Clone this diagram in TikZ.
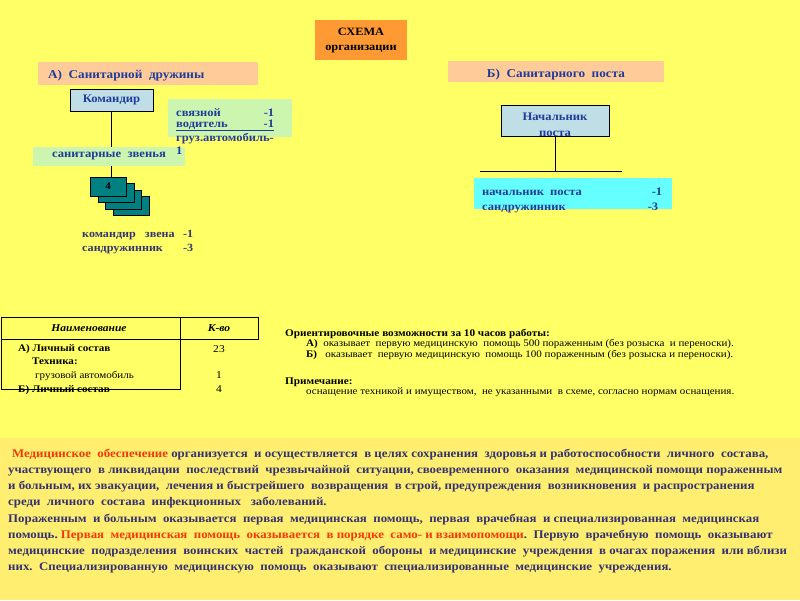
\documentclass[tikz,border=0pt]{standalone}
\usepackage{fontspec}
\setmainfont{Liberation Serif}[FakeStretch=1.1]
\usetikzlibrary{positioning}
\definecolor{bgYellow}{HTML}{FFFF66}
\definecolor{paleYellow}{HTML}{FFEE70}
\definecolor{schemeOrange}{HTML}{FF9933}
\definecolor{peach}{HTML}{FFCC99}
\definecolor{chiefBlue}{HTML}{C0DEE6}
\definecolor{mint}{HTML}{CCF5B0}
\definecolor{postCyan}{HTML}{66FFFF}
\definecolor{linkTeal}{HTML}{008080}
\definecolor{inkBlue}{HTML}{1F3C9C}
\definecolor{inkNavy}{HTML}{333370}
\definecolor{inkRed}{HTML}{F03A0A}

\begin{document}
\begin{tikzpicture}[x=1pt,y=-1pt,
  every node/.style={inner sep=0pt},
  lbl/.style={anchor=base west, text=inkBlue, font=\fontsize{11.4}{13}\selectfont\bfseries},
  small/.style={anchor=base west, font=\fontsize{10}{12}\selectfont},
  para/.style={anchor=base west, text=inkNavy, font=\fontsize{11.7}{14}\selectfont\bfseries}]
  \useasboundingbox (0,0) rectangle (800,600);
  \fill[bgYellow] (0,0) rectangle (800,600);
  \fill[paleYellow] (0,438) rectangle (800,600);

  % headings
  \node[fill=schemeOrange, minimum width=92, minimum height=40, align=center,
        font=\fontsize{11.2}{15}\selectfont\bfseries] (schema) at (361,40) {СХЕМА\\организации};
  \node[fill=peach, minimum width=220, minimum height=23] (druzh) at (148,73.5) {};
  \node[lbl, font=\fontsize{12}{14}\selectfont\bfseries] (druzhT) at (48,78) {А)\ \ Санитарной\ \ дружины};
  \node[fill=peach, minimum width=216, minimum height=21] (post) at (556,71.5) {};
  \node[lbl, anchor=base, font=\fontsize{12}{14}\selectfont\bfseries] (postT) at (556,77) {Б)\ \ Санитарного\ \ поста};

  % sanitary squad
  \node[draw, fill=chiefBlue, minimum width=83, minimum height=22, text=inkBlue,
        font=\fontsize{11.5}{13}\selectfont\bfseries] (komandir) at (111.5,100) {Командир};
  \node[fill=mint, minimum width=124, minimum height=38, anchor=north west] (svyaz) at (168,99) {};
  \node[fill=mint, minimum width=152, minimum height=19, text=inkBlue,
        font=\fontsize{11.5}{13}\selectfont\bfseries] (zvenya) at (109,156.5) {санитарные\ \ звенья};
  \node[lbl] (svyaz1) at (176,116) {\makebox[98pt][l]{связной\hfill-1}};
  \node[lbl] (svyaz2) at (176,127) {\underline{\makebox[98pt][l]{водитель\hfill-1}}};
  \node[lbl] (svyaz3) at (176,141) {груз.автомобиль-};
  \node[lbl] (svyaz4) at (176,154) {1};
  \foreach \k in {3,2,1,0}
    \node[draw, fill=linkTeal, minimum width=36, minimum height=19, anchor=north west,
          font=\fontsize{10}{12}\selectfont\bfseries] (zv\k) at ({90+7.5*\k},{177+6.3*\k}) {\ifnum\k=0 4\fi};
  \draw (komandir.south) -- (komandir.south |- zvenya.north);
  \draw (komandir.south |- zvenya.south) -- (komandir.south |- zv0.north);
  \node[lbl, text=inkNavy, font=\fontsize{11}{13}\selectfont\bfseries] (zvSostav1) at (82,237) {\makebox[111pt][l]{командир\ \ \ звена\hfill-1}};
  \node[lbl, text=inkNavy, font=\fontsize{11}{13}\selectfont\bfseries] (zvSostav2) at (82,251) {\makebox[111pt][l]{сандружинник\hfill-3}};

  % sanitary post
  \node[draw, fill=chiefBlue, minimum width=108, minimum height=31] (nach) at (555,120.5) {};
  \node[anchor=north, align=center, text=inkBlue, font=\fontsize{11.5}{16}\selectfont\bfseries]
        (nachT) at (555,113) {Начальник\\поста};
  \coordinate (barL) at (480,171);
  \coordinate (barR) at (622,171);
  \draw (nach.south) -- (nach.south |- barL);
  \draw (barL) -- (barR);
  \node[fill=postCyan, minimum width=198, minimum height=31, anchor=north west] (postSostav) at (474,178) {};
  \node[lbl] (postS1) at (482,195) {\makebox[180pt][l]{начальник\ \ поста\hfill-1}};
  \node[lbl] (postS2) at (482,210) {\makebox[176pt][l]{сандружинник\hfill-3}};

  % table
  \draw (1,317) rectangle (258,339);
  \draw (1,339) rectangle (180,389);
  \draw (180,317) -- (180,339);
  \node[anchor=base, font=\fontsize{10.5}{12}\selectfont\bfseries\itshape] (thName) at (89,331) {Наименование};
  \node[anchor=base, font=\fontsize{10.5}{12}\selectfont\bfseries\itshape] (thQty) at (219,331) {К-во};
  \node[small, font=\fontsize{10.1}{12}\selectfont\bfseries] (tr1) at (18,351) {А) Личный состав};
  \node[small, font=\fontsize{10.1}{12}\selectfont\bfseries] (tr2) at (32,364) {Техника:};
  \node[small] (tr3) at (35,378) {грузовой автомобиль};
  \node[small, font=\fontsize{10.1}{12}\selectfont\bfseries] (tr4) at (18,392) {Б) Личный состав};
  \node[anchor=base, font=\fontsize{10.5}{12}\selectfont] (q1) at (219,352) {23};
  \node[anchor=base, font=\fontsize{10.5}{12}\selectfont] (q2) at (219,378) {1};
  \node[anchor=base, font=\fontsize{10.5}{12}\selectfont] (q3) at (219,392) {4};

  % capacities
  \node[small, font=\fontsize{10.2}{12}\selectfont\bfseries] (capHead) at (285,336) {Ориентировочные возможности за 10 часов работы:};
  \node[small] (capA) at (306,346) {\textbf{А)}\ \ оказывает\ \ первую медицинскую\ \ помощь 500 пораженным (без розыска\ \ и переноски).};
  \node[small] (capB) at (306,357) {\textbf{Б)}\ \ \ оказывает\ \ первую медицинскую\ \ помощь 100 пораженным (без розыска и переноски).};
  \node[small, font=\fontsize{10.2}{12}\selectfont\bfseries] (noteHead) at (285,384) {Примечание:};
  \node[small] (noteBody) at (306,394) {оснащение техникой и имуществом,\ \ не указанными\ \ в схеме, согласно нормам оснащения.};

  % text block
  \node[para] (p1) at (12,457) {\textcolor{inkRed}{Медицинское\ \ обеспечение} организуется\ \ и осуществляется\ \ в целях сохранения\ \ здоровья\ и работоспособности\ \ личного\ \ состава,};
  \node[para] (p2) at (8,473) {участвующего\ \ в ликвидации\ \ последствий\ \ чрезвычайной\ \ ситуации,\ своевременного\ \ оказания\ \ медицинской\ помощи\ пораженным};
  \node[para] (p3) at (8,489) {и больным,\ их\ эвакуации,\ \ лечения\ и быстрейшего\ \ возвращения\ \ в строй,\ предупреждения\ \ возникновения\ \ и распространения};
  \node[para] (p4) at (8,505) {среди\ \ личного\ \ состава\ \ инфекционных\ \ \ заболеваний.};
  \node[para] (p5) at (8,522) {Пораженным\ \ и больным\ \ оказывается\ \ первая\ \ медицинская\ \ помощь,\ \ первая\ \ врачебная\ \ и специализированная\ \ медицинская};
  \node[para] (p6) at (8,538) {помощь.\ \textcolor{inkRed}{Первая\ \ медицинская\ \ помощь\ \ оказывается\ \ в порядке\ \ само- и взаимопомощи}.\ \ Первую\ \ врачебную\ \ помощь\ \ оказывают};
  \node[para] (p7) at (8,554) {медицинские\ \ подразделения\ \ воинских\ \ частей\ \ гражданской\ \ обороны\ \ и медицинские\ \ учреждения\ \ в очагах\ поражения\ \ или\ вблизи};
  \node[para] (p8) at (8,570) {них.\ \ Специализированную\ \ медицинскую\ \ помощь\ \ оказывают\ \ специализированные\ \ медицинские\ \ учреждения.};
\end{tikzpicture}
\end{document}
